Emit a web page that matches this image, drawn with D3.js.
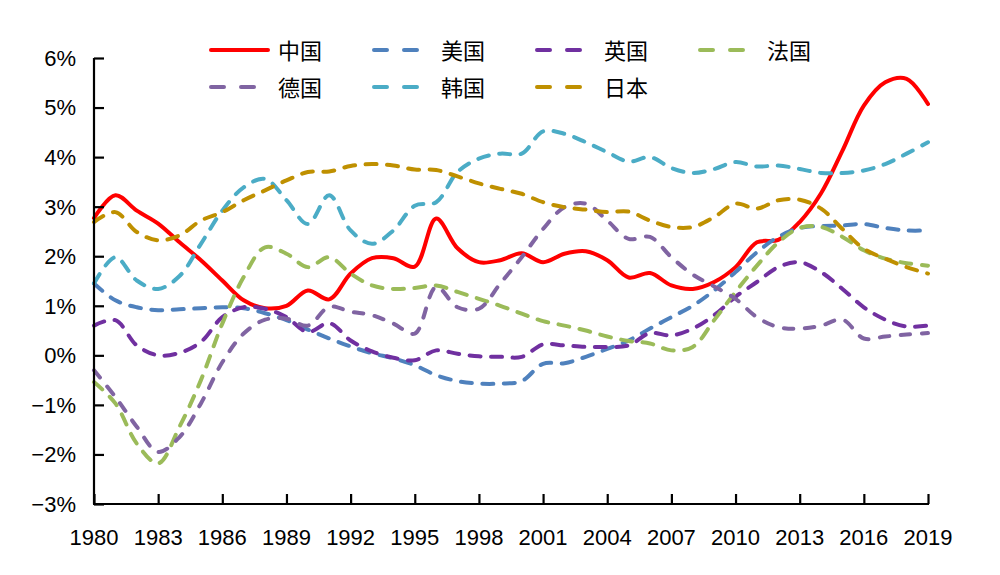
<!DOCTYPE html>
<html>
<head>
<meta charset="utf-8">
<script src="https://cdn.jsdelivr.net/npm/d3@7"></script>
<style>
  html, body { margin: 0; padding: 0; background: #fff; }
  svg { display: block; }
</style>
</head>
<body>
<svg id="chart" width="1000" height="575"></svg>
<script>
// ---- data ----
const years = d3.range(1980, 2020);
const xTickLabels = ["1980","1983","1986","1989","1992","1995","1998","2001","2004","2007","2010","2013","2016","2019"];
const yTickValues = [6, 5, 4, 3, 2, 1, 0, -1, -2, -3];

const seriesNames = ["中国", "美国", "英国", "法国", "德国", "韩国", "日本"];
const seriesColors = ["#FF0000", "#4F81BD", "#7030A0", "#9BBB59", "#8064A2", "#4BACC6", "#BF9000"];

const china   = [2.77, 3.23, 2.92, 2.66, 2.28, 1.92, 1.51, 1.11, 0.95, 1.00, 1.31, 1.13, 1.65, 1.96, 1.96, 1.79, 2.76, 2.16, 1.88, 1.92, 2.06, 1.88, 2.05, 2.10, 1.92, 1.57, 1.66, 1.41, 1.34, 1.48, 1.78, 2.28, 2.33, 2.69, 3.27, 4.13, 5.04, 5.51, 5.58, 5.07];
const usa     = [1.45, 1.11, 0.97, 0.91, 0.93, 0.95, 0.97, 0.95, 0.85, 0.71, 0.52, 0.34, 0.18, 0.04, -0.06, -0.20, -0.40, -0.52, -0.57, -0.57, -0.52, -0.17, -0.16, -0.03, 0.13, 0.30, 0.54, 0.77, 1.00, 1.31, 1.68, 2.08, 2.39, 2.57, 2.61, 2.62, 2.65, 2.57, 2.52, 2.52];
const uk      = [0.60, 0.71, 0.20, 0.00, 0.05, 0.27, 0.77, 0.97, 0.94, 0.77, 0.47, 0.65, 0.30, 0.08, -0.05, -0.10, 0.10, 0.03, -0.02, -0.03, -0.03, 0.22, 0.20, 0.17, 0.17, 0.20, 0.45, 0.40, 0.54, 0.81, 1.18, 1.48, 1.78, 1.88, 1.68, 1.34, 0.97, 0.72, 0.58, 0.60];
const france  = [-0.54, -0.97, -1.78, -2.18, -1.44, -0.50, 0.64, 1.58, 2.18, 2.05, 1.78, 1.98, 1.65, 1.41, 1.34, 1.36, 1.41, 1.28, 1.14, 1.00, 0.84, 0.69, 0.60, 0.50, 0.38, 0.29, 0.24, 0.10, 0.17, 0.71, 1.28, 1.81, 2.28, 2.57, 2.59, 2.39, 2.12, 1.95, 1.86, 1.81];
const germany = [-0.30, -0.84, -1.44, -1.95, -1.65, -0.97, -0.14, 0.44, 0.72, 0.74, 0.60, 0.98, 0.88, 0.81, 0.64, 0.44, 1.38, 0.97, 0.94, 1.45, 1.98, 2.55, 2.99, 3.06, 2.72, 2.35, 2.39, 1.98, 1.63, 1.39, 1.14, 0.77, 0.57, 0.54, 0.60, 0.72, 0.34, 0.38, 0.42, 0.45];
const korea   = [1.45, 1.98, 1.51, 1.34, 1.60, 2.25, 2.92, 3.39, 3.56, 3.13, 2.65, 3.23, 2.52, 2.25, 2.52, 3.02, 3.09, 3.70, 3.97, 4.07, 4.07, 4.52, 4.47, 4.30, 4.10, 3.91, 4.00, 3.78, 3.68, 3.76, 3.90, 3.81, 3.83, 3.76, 3.68, 3.68, 3.73, 3.86, 4.07, 4.30];
const japan   = [2.69, 2.89, 2.49, 2.32, 2.42, 2.72, 2.89, 3.13, 3.33, 3.53, 3.70, 3.71, 3.82, 3.86, 3.83, 3.75, 3.74, 3.61, 3.47, 3.36, 3.26, 3.09, 2.99, 2.94, 2.89, 2.90, 2.72, 2.59, 2.59, 2.79, 3.06, 2.96, 3.13, 3.14, 2.96, 2.55, 2.15, 1.95, 1.78, 1.65];

const seriesValues = [china, usa, uk, france, germany, korea, japan];

// ---- layout ----
const svg = d3.select("#chart");
const plotLeft = 94, plotRight = 928, plotTop = 58, plotBottom = 504;

const x = d3.scaleLinear().domain([1980, 2019]).range([plotLeft, plotRight]);
const y = d3.scaleLinear().domain([-3, 6]).range([plotBottom, plotTop]);

const tickFont = "'Liberation Sans', Arial, sans-serif";

// ---- series ----
const line = d3.line()
  .x((d, i) => x(years[i]))
  .y(d => y(d))
  .curve(d3.curveCatmullRom.alpha(0.5));

const g = svg.append("g");
seriesValues.forEach((vals, k) => {
  g.append("path")
    .attr("d", line(vals))
    .attr("fill", "none")
    .attr("stroke", seriesColors[k])
    .attr("stroke-width", 4)
    .attr("stroke-linecap", "round")
    .attr("stroke-linejoin", "round")
    .attr("stroke-dasharray", k === 0 ? null : (k === 4 ? "9.5,11.5" : "11,10.5"));
});

// ---- axes ----
const yAxis = d3.axisRight(y).tickValues(yTickValues).tickSize(10).tickFormat("");
const yg = svg.append("g").attr("transform", `translate(${plotLeft},0)`).call(yAxis);
yg.select(".domain").attr("d", `M0,${plotTop}V${plotBottom}`);
yg.selectAll("path, line").attr("stroke", "#000").attr("stroke-width", 2.2);

const xAxis = d3.axisTop(x)
  .tickValues(xTickLabels.map(Number))
  .tickSize(10)
  .tickFormat("");
const xg = svg.append("g").attr("transform", `translate(0,${plotBottom})`).call(xAxis);
xg.select(".domain").attr("d", `M${plotLeft - 1},0H${plotRight + 1}`);
xg.selectAll("path, line").attr("stroke", "#000").attr("stroke-width", 2.2);

// y tick labels
yTickValues.forEach(v => {
  const t = svg.append("text")
    .attr("x", 76)
    .attr("y", y(v))
    .attr("dy", "0.36em")
    .attr("text-anchor", "end")
    .attr("font-family", tickFont)
    .attr("font-size", 22)
    .attr("fill", "#000");
  t.append("tspan").text(v < 0 ? "\u2212" + Math.abs(v) : String(v));
  t.append("tspan")
    .attr("font-family", "'Liberation Sans Narrow', 'Arial Narrow', 'Liberation Sans', sans-serif")
    .text("%");
});

// x tick labels
xTickLabels.forEach(lbl => {
  svg.append("text")
    .attr("x", x(+lbl))
    .attr("y", 545)
    .attr("text-anchor", "middle")
    .attr("font-family", tickFont)
    .attr("font-size", 22)
    .attr("fill", "#000")
    .text(lbl);
});

// ---- legend ----
const legendCols = [209, 372, 535, 698];
const legendRows = [50, 87];
seriesNames.forEach((name, k) => {
  const col = k < 4 ? k : k - 4;
  const row = k < 4 ? 0 : 1;
  const lx = legendCols[col], ly = legendRows[row];
  if (k === 0) {
    svg.append("line")
      .attr("x1", lx + 2).attr("x2", lx + 59)
      .attr("y1", ly).attr("y2", ly)
      .attr("stroke", seriesColors[k]).attr("stroke-width", 4)
      .attr("stroke-linecap", "round");
  } else {
    svg.append("line")
      .attr("x1", lx + 2).attr("x2", lx + 45)
      .attr("y1", ly).attr("y2", ly)
      .attr("stroke", seriesColors[k]).attr("stroke-width", 4)
      .attr("stroke-linecap", "round")
      .attr("stroke-dasharray", "13,17");
  }
  svg.append("text")
    .attr("x", lx + 69)
    .attr("y", ly + 1)
    .attr("dy", "0.36em")
    .attr("font-family", "'Noto Sans CJK SC', sans-serif")
    .attr("font-size", 22)
    .attr("fill", "#000")
    .text(name);
});
</script>
</body>
</html>
